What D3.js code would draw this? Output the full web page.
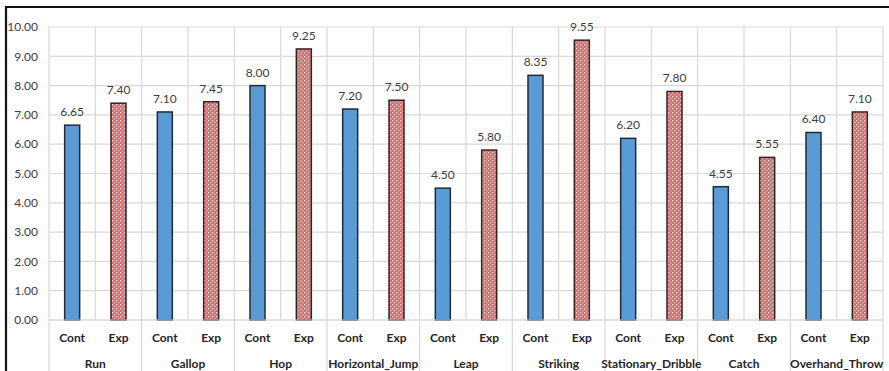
<!DOCTYPE html>
<html><head><meta charset="utf-8">
<script src="https://cdn.jsdelivr.net/npm/d3@7"></script>
<style>body{margin:0;background:#fff}svg{display:block}</style>
</head><body>
<script>
const categories = ["Run","Gallop","Hop","Horizontal_Jump","Leap","Striking","Stationary_Dribble","Catch","Overhand_Throw"];
const groups = ["Cont","Exp"];
const contValues = [6.65,7.10,8.00,7.20,4.50,8.35,6.20,4.55,6.40];
const expValues = [7.40,7.45,9.25,7.50,5.80,9.55,7.80,5.55,7.10];
const yTicks = [0,1,2,3,4,5,6,7,8,9,10];

const W=889,H=371;
const mLeft=49,mRight=883,mTop=27,mBottom=320;
const font="Lato, 'Open Sans', sans-serif";
const svg=d3.select("body").append("svg").attr("width",W).attr("height",H);

const defs=svg.append("defs");
const pat=defs.append("pattern").attr("id","dots").attr("patternUnits","userSpaceOnUse").attr("width",4).attr("height",4);
pat.append("rect").attr("width",4).attr("height",4).attr("fill","#e2696e");
pat.append("rect").attr("x",0).attr("y",0).attr("width",1.3).attr("height",1.3).attr("fill","#fbe3e4");
pat.append("rect").attr("x",2).attr("y",2).attr("width",1.3).attr("height",1.3).attr("fill","#f6c4c6");

const x=d3.scaleBand().domain(categories).range([mLeft,mRight]).padding(0);
const xs=d3.scaleBand().domain(groups).range([0,x.bandwidth()]).padding(0);
const y=d3.scaleLinear().domain([0,10]).range([mBottom,mTop]);

svg.append("g").selectAll("line").data(yTicks).join("line")
  .attr("x1",mLeft).attr("x2",mRight).attr("y1",d=>y(d)).attr("y2",d=>y(d))
  .attr("stroke","#d9d9d9").attr("stroke-width",1.2);
const vLines=[];
categories.forEach(c=>{vLines.push(x(c));vLines.push(x(c)+xs("Exp"));});
vLines.push(mRight);
svg.append("g").selectAll("line").data(vLines).join("line")
  .attr("x1",d=>d).attr("x2",d=>d).attr("y1",mTop).attr("y2",mBottom)
  .attr("stroke","#d9d9d9").attr("stroke-width",1.2);
const sep=categories.map(c=>x(c)).concat([mRight]);
svg.append("g").selectAll("line").data(sep).join("line")
  .attr("x1",d=>d).attr("x2",d=>d).attr("y1",mBottom).attr("y2",H)
  .attr("stroke","#d9d9d9").attr("stroke-width",1.2);

svg.append("g").selectAll("text").data(yTicks).join("text")
  .attr("x",38).attr("y",d=>y(d)).attr("dy","0.35em").attr("text-anchor","end")
  .attr("font-family",font).attr("font-size",12).attr("fill","#404040")
  .text(d=>d3.format(".2f")(d));

const bw=15;
const data=[];
categories.forEach((c,i)=>{
  data.push({c,g:"Cont",v:contValues[i]});
  data.push({c,g:"Exp",v:expValues[i]});
});
const cx=d=>x(d.c)+xs(d.g)+xs.bandwidth()/2;
svg.append("g").selectAll("rect").data(data).join("rect")
  .attr("x",d=>cx(d)-bw/2).attr("width",bw)
  .attr("y",d=>y(d.v)).attr("height",d=>y(0)-y(d.v))
  .attr("fill",d=>d.g==="Cont"?"#5b9bd5":"url(#dots)")
  .attr("stroke",d=>d.g==="Cont"?"#1f2a36":"#3a2020").attr("stroke-width",1.5);

svg.append("g").selectAll("text").data(data).join("text")
  .attr("x",cx).attr("y",d=>y(d.v)-9).attr("text-anchor","middle")
  .attr("font-family",font).attr("font-size",12).attr("fill","#404040")
  .text(d=>d3.format(".2f")(d.v));

svg.append("line").attr("x1",mLeft).attr("x2",mRight).attr("y1",mBottom).attr("y2",mBottom)
  .attr("stroke","#d9d9d9").attr("stroke-width",1.2);

svg.append("g").selectAll("text").data(data).join("text")
  .attr("x",cx).attr("y",338).attr("dy","0.35em").attr("text-anchor","middle")
  .attr("font-family",font).attr("font-size",12).attr("font-weight","bold").attr("fill","#262626")
  .text(d=>d.g);
svg.append("g").selectAll("text").data(categories).join("text")
  .attr("x",d=>x(d)+x.bandwidth()/2).attr("y",364).attr("dy","0.35em").attr("text-anchor","middle")
  .attr("font-family",font).attr("font-size",12).attr("font-weight","bold").attr("fill","#262626")
  .text(d=>d);

svg.append("path").attr("d",`M6,${H+5}V7H${W+5}`).attr("fill","none").attr("stroke","#111").attr("stroke-width",2.2);
</script>
</body></html>
